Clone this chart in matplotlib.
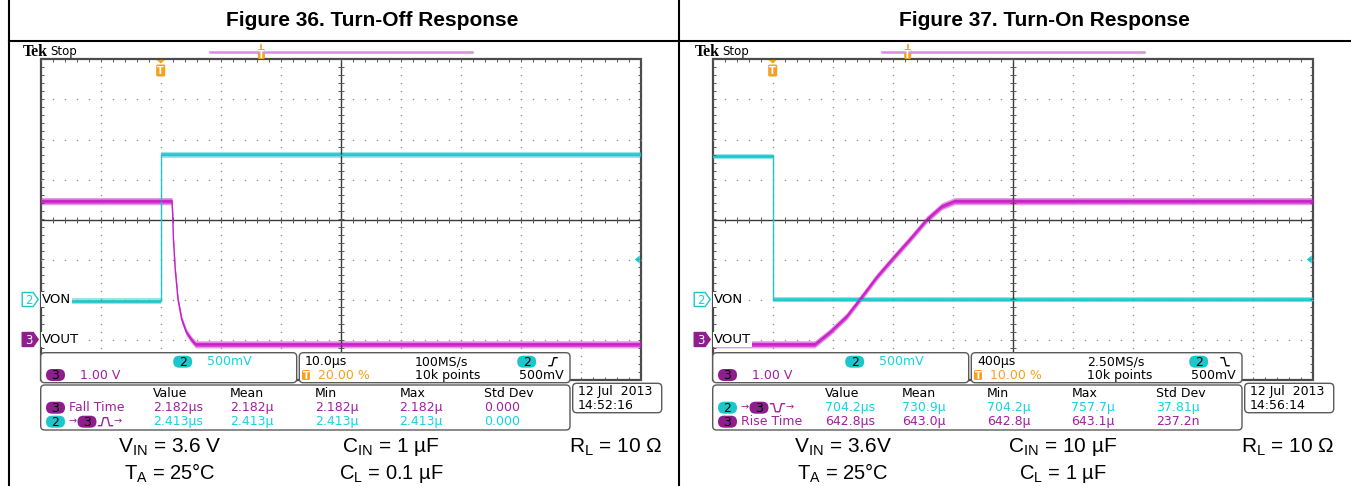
import matplotlib
matplotlib.use('Agg')
import matplotlib.pyplot as plt
from matplotlib.patches import FancyBboxPatch, Polygon, Rectangle
import numpy as np

plt.rcParams['mathtext.fontset'] = 'custom'
plt.rcParams['mathtext.rm'] = 'Liberation Sans'

W, H = 1351, 486

# ---- waveforms (time in us, volts) ----
off_von_t = [-20, 0.1, 0.1, 80]
off_von_v = [-0.02, -0.02, 1.81, 1.81]
off_vout_t = [-20, 1.88, 2.0, 2.12, 2.42, 2.88, 3.5, 4.28, 5.1, 5.8, 80]
off_vout_v = [3.46, 3.46, 3.12, 2.5, 1.75, 1.0, 0.5, 0.18, 0.0, -0.12, -0.12]

on_von_t = [-400, 0, 0, 3600]
on_von_v = [1.79, 1.79, 0.0, 0.0]
on_vout_t = [-400, 280, 380, 493, 580, 697, 813, 913, 1027, 1127, 1213, 3600]
on_vout_v = [-0.12, -0.12, 0.18, 0.58, 1.0, 1.58, 2.08, 2.5, 3.0, 3.33, 3.46, 3.46]

# ---- scope settings ----
titles = ['Figure 36. Turn-Off Response', 'Figure 37. Turn-On Response']
time_per_div = [10.0, 400.0]        # us/div
trigger_pct = [20.0, 10.0]
time_labels = ['10.0\u00b5s', '400\u00b5s']
rate_labels = ['100MS/s', '2.50MS/s']
trig_edge = ['rise', 'fall']
ch2_scale, ch2_pos = 0.5, -2.0      # V/div, div
ch3_scale, ch3_pos = 1.0, -3.0
trig_level = 0.5

meas_header = ['Value', 'Mean', 'Min', 'Max', 'Std Dev']
off_fall = ['2.182\u00b5s', '2.182\u00b5', '2.182\u00b5', '2.182\u00b5', '0.000']
off_delay = ['2.413\u00b5s', '2.413\u00b5', '2.413\u00b5', '2.413\u00b5', '0.000']
on_delay = ['704.2\u00b5s', '730.9\u00b5', '704.2\u00b5', '757.7\u00b5', '37.81\u00b5']
on_rise = ['642.8\u00b5s', '643.0\u00b5', '642.8\u00b5', '643.1\u00b5', '237.2n']
dates = [('12 Jul  2013', '14:52:16'), ('12 Jul  2013', '14:56:14')]

cond_row1 = [[r'V$_{\mathrm{IN}}$ = 3.6 V', r'C$_{\mathrm{IN}}$ = 1 µF', r'R$_{\mathrm{L}}$ = 10 Ω'],
             [r'V$_{\mathrm{IN}}$ = 3.6V', r'C$_{\mathrm{IN}}$ = 10 µF', r'R$_{\mathrm{L}}$ = 10 Ω']]
cond_row2 = [[r'T$_{\mathrm{A}}$ = 25°C', r'C$_{\mathrm{L}}$ = 0.1 µF'],
             [r'T$_{\mathrm{A}}$ = 25°C', r'C$_{\mathrm{L}}$ = 1 µF']]

CYAN = '#1dc6cc'
CYAN_TXT = '#16d2e4'
MAG = '#c81ec8'
MAG_TXT = '#a0209f'
PURPLE = '#8e1e8e'
ORANGE = '#f5a01e'

GRID_X = [40.7, 712.7]
GRID_Y, GRID_W, GRID_H = 59.5, 600.0, 320.0

fig = plt.figure(figsize=(W / 100, H / 100), dpi=100)
bg = fig.add_axes([0, 0, 1, 1])
bg.set_xlim(0, W)
bg.set_ylim(H, 0)
bg.axis('off')

# table frame
bg.plot([8.5, 8.5], [0, H], color='black', lw=1.5)
bg.plot([679.3, 679.3], [0, H], color='black', lw=1.5)
bg.plot([8.5, W], [40.7, 40.7], color='black', lw=1.5)
for i, cx in enumerate([372, 1044]):
    bg.text(cx, 20, titles[i], ha='center', va='center', fontsize=15,
            fontweight='bold', family='Liberation Sans')

scopes = []
for i in range(2):
    x0 = GRID_X[i]
    ax = fig.add_axes([x0 / W, 1 - (GRID_Y + GRID_H) / H, GRID_W / W, GRID_H / H])
    tdiv = time_per_div[i]
    t0 = -trigger_pct[i] / 100 * 10 * tdiv
    t1 = t0 + 10 * tdiv
    ax.set_xlim(t0, t1)
    ax.set_ylim(-4, 4)
    ax.axis('off')
    # graticule dots
    minor_x = t0 + np.arange(0, 10.01, 0.2) * tdiv
    minor_y = np.arange(-4, 4.01, 0.2)
    for k in range(1, 10):
        if k == 5:
            continue
        ax.plot(np.full(minor_y.size, t0 + k * tdiv), minor_y, ls='none', marker='s',
                ms=0.9, color='#8a8a8a', mew=0)
    for j in range(-3, 4):
        if j == 0:
            continue
        ax.plot(minor_x, np.full(minor_x.size, j), ls='none', marker='s',
                ms=0.9, color='#8a8a8a', mew=0)
    tc = t0 + 5 * tdiv
    ax.axhline(0, color='#3a3a3a', lw=1.0)
    ax.axvline(tc, color='#3a3a3a', lw=1.0)
    ax.plot(minor_x, np.zeros(minor_x.size), ls='none', marker='|', ms=5, mew=0.7, color='#555555')
    ax.plot(np.full(minor_y.size, tc), minor_y, ls='none', marker='_', ms=5, mew=0.7, color='#555555')
    # border with inward ticks
    for yb in (-4, 4):
        ax.plot(minor_x, np.full(minor_x.size, yb), ls='none', marker='|', ms=5, mew=0.7, color='#555555')
    for xb in (t0, t1):
        ax.plot(np.full(minor_y.size, xb), minor_y, ls='none', marker='_', ms=5, mew=0.7, color='#555555')
    ax.add_patch(Rectangle((0, 0), 1, 1, transform=ax.transAxes, fill=False,
                           ec='#4a4a4a', lw=1.6, clip_on=False))
    scopes.append((ax, t0, t1))


def trace(ax, t, v, scale, pos, color, half):
    t = np.asarray(t, float)
    d = np.asarray(v, float) / scale + pos
    ax.fill_between(t, d - half, d + half, color=color, alpha=0.45, lw=0)
    ax.fill_between(t, d - half * 0.55, d + half * 0.55, color=color, alpha=0.8, lw=0)
    ax.plot(t, d, color=color, lw=1.0)


trace(scopes[0][0], off_von_t, off_von_v, ch2_scale, ch2_pos, CYAN, 0.07)
trace(scopes[0][0], off_vout_t, off_vout_v, ch3_scale, ch3_pos, MAG, 0.09)
trace(scopes[1][0], on_von_t, on_von_v, ch2_scale, ch2_pos, CYAN, 0.07)
trace(scopes[1][0], on_vout_t, on_vout_v, ch3_scale, ch3_pos, MAG, 0.09)

ov = fig.add_axes([0, 0, 1, 1])
ov.set_xlim(0, W)
ov.set_ylim(H, 0)
ov.axis('off')
ov.patch.set_alpha(0)


def to_px(ax, x, y):
    return ov.transData.inverted().transform(ax.transData.transform((x, y)))


def rbox(x0, y0, x1, y1, r=4):
    ov.add_patch(FancyBboxPatch((x0, y0), x1 - x0, y1 - y0,
                                boxstyle='round,pad=0,rounding_size=%g' % r,
                                fc='white', ec='#5a5a5a', lw=1.0))


def st(x, y, s, color='black', size=9, **kw):
    ov.text(x, y, s, color=color, fontsize=size, family='DejaVu Sans',
            ha=kw.pop('ha', 'left'), va='center', **kw)


def pill(cx, cy, label, fc):
    ov.add_patch(FancyBboxPatch((cx - 9.5, cy - 6), 19, 12,
                                boxstyle='round,pad=0,rounding_size=6', fc=fc, ec='none'))
    ov.text(cx, cy + 0.5, label, ha='center', va='center', fontsize=9,
            family='DejaVu Sans', color='black')


def tbox(cx, cy, w=9, h=12):
    ov.add_patch(FancyBboxPatch((cx - w / 2, cy - h / 2), w, h,
                                boxstyle='round,pad=0,rounding_size=1.5', fc=ORANGE, ec='none'))
    ov.text(cx, cy + 0.5, 'T', ha='center', va='center', fontsize=7, color='white',
            fontweight='bold', family='DejaVu Sans')


def glyph(x, y, pts, color):
    ov.plot([x + p[0] for p in pts], [y + p[1] for p in pts], color=color, lw=1.0)


RISE = [(0, 4), (3, 4), (5, -4), (8, -4)]
FALL = [(0, -4), (3, -4), (5, 4), (8, 4)]
PULSE = [(0, 4), (3, 4), (5, -4), (9, -4), (11, 4), (14, 4)]
NPULSE = [(0, -4), (3, -4), (5, 4), (9, 4), (11, -4), (14, -4)]

for i in range(2):
    ax, t0, t1 = scopes[i]
    dx = GRID_X[i] - GRID_X[0]
    # header
    ov.text(23 + dx, 52, 'Tek', fontsize=11.5, fontweight='bold', family='Liberation Serif',
            ha='left', va='center')
    st(50 + dx, 51.5, 'Stop', size=8.5)
    bx0, bx1 = 210 + dx, 472 + dx
    ov.plot([bx0, bx1], [51.7, 51.7], color='#d890d8', lw=1.8)
    tx = bx0 + (bx1 - bx0) * trigger_pct[i] / 100 * 0.98
    ov.plot([tx, tx], [45.5, 48.5], color=ORANGE, lw=1.2)
    tbox(tx, 54, 7, 10)
    # trigger position marker at top of graticule
    px, py = to_px(ax, 0, 4)
    ov.add_patch(Polygon([(px - 4, py + 0.5), (px + 4, py + 0.5), (px, py + 4)], fc=ORANGE, ec='none'))
    tbox(px, py + 11)
    # trigger level arrow on right edge
    lx, ly = to_px(ax, t1, trig_level / ch2_scale + ch2_pos)
    ov.add_patch(Polygon([(lx - 6, ly), (lx - 1, ly - 4), (lx - 1, ly + 4)], fc=CYAN, ec='none'))
    # channel ground markers with labels
    gx, gy = to_px(ax, t0, ch2_pos)
    ov.add_patch(Polygon([(gx - 18.5, gy - 7), (gx - 7.5, gy - 7), (gx - 2.5, gy),
                          (gx - 7.5, gy + 7), (gx - 18.5, gy + 7)], fc='white', ec=CYAN, lw=1.0))
    ov.text(gx - 12, gy + 0.5, '2', color=CYAN_TXT, fontsize=8.5, ha='center', va='center')
    ov.text(gx + 1.5, gy, 'VON', fontsize=9.5, family='DejaVu Sans', ha='left', va='center',
            bbox=dict(fc='white', ec='none', pad=0.6))
    gx, gy = to_px(ax, t0, ch3_pos)
    ov.add_patch(Polygon([(gx - 18.5, gy - 7), (gx - 7.5, gy - 7), (gx - 2.5, gy),
                          (gx - 7.5, gy + 7), (gx - 18.5, gy + 7)], fc=PURPLE, ec=PURPLE, lw=1.0))
    ov.text(gx - 12, gy + 0.5, '3', color='white', fontsize=8.5, ha='center', va='center')
    ov.text(gx + 1.5, gy, 'VOUT', fontsize=9.5, family='DejaVu Sans', ha='left', va='center',
            bbox=dict(fc='white', ec='none', pad=0.6))

    # vertical status box
    rbox(40.7 + dx, 352.7, 296.7 + dx, 382.7)
    pill(182.7 + dx, 361.7, '2', CYAN)
    st(206.7 + dx, 361.7, '500mV', CYAN_TXT)
    pill(55.5 + dx, 375, '3', PURPLE)
    st(80 + dx, 375, '1.00 V', MAG_TXT)
    # horizontal / trigger box
    rbox(299.3 + dx, 352.7, 570 + dx, 382.7)
    st(305 + dx, 361.7, time_labels[i])
    st(415 + dx, 361.7, rate_labels[i])
    pill(526.7 + dx, 361.7, '2', CYAN)
    glyph(549 + dx, 361.7, RISE if trig_edge[i] == 'rise' else FALL, 'black')
    tbox(306 + dx, 375, 8, 10)
    st(317.7 + dx, 375, '%.2f %%' % trigger_pct[i], ORANGE)
    st(415 + dx, 375, '10k points')
    st(519.3 + dx, 375, '%dmV' % (trig_level * 1000))
    # measurement box
    rbox(40.7 + dx, 385, 570 + dx, 430)
    cols = [153.3, 230, 315, 399.3, 484]
    for c, hname in zip(cols, meas_header):
        st(c + dx, 393.3, hname)
    if i == 0:
        rows = [('fall', off_fall, MAG_TXT), ('delay', off_delay, CYAN_TXT)]
    else:
        rows = [('delay', on_delay, CYAN_TXT), ('rise', on_rise, MAG_TXT)]
    for r, (kind, vals, col) in enumerate(rows):
        y = 407.7 + 14 * r
        if kind in ('fall', 'rise'):
            pill(55.5 + dx, y, '3', PURPLE)
            st(69 + dx, y, 'Fall Time' if kind == 'fall' else 'Rise Time', MAG_TXT)
        else:
            pill(55.5 + dx, y, '2', CYAN)
            st(68.5 + dx, y, '\u2192', MAG_TXT, size=7)
            pill(87 + dx, y, '3', PURPLE)
            glyph(98.5 + dx, y, PULSE if i == 0 else NPULSE, MAG_TXT)
            st(113 + dx, y, '\u2192', MAG_TXT, size=7)
        for c, v in zip(cols, vals):
            st(c + dx, y, v, col)
    # date box
    rbox(572.7 + dx, 383.3, 661.7 + dx, 412.7)
    st(577.7 + dx, 391.7, dates[i][0])
    st(577.7 + dx, 405, dates[i][1])

# test conditions under each screenshot
col_centers = [[170, 391, 616], [843, 1063, 1288]]
for i in range(2):
    for c, s in zip(col_centers[i], cond_row1[i]):
        bg.text(c, 447, s, ha='center', va='center', fontsize=15, family='Liberation Sans')
    for c, s in zip(col_centers[i][:2], cond_row2[i]):
        bg.text(c, 473.5, s, ha='center', va='center', fontsize=14.5, family='Liberation Sans')

fig.savefig('out.png', dpi=100)
